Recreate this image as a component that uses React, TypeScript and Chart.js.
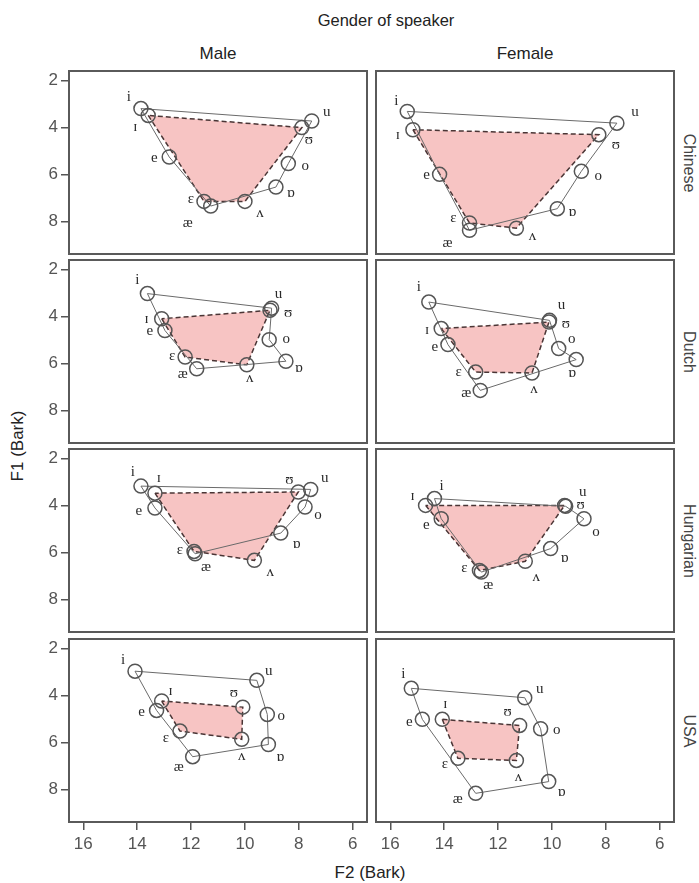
import React, { useEffect, useRef } from 'react';
import { Chart, registerables } from 'chart.js';

Chart.register(...registerables);

// ---------- data ----------
const VOWELS = ['i', 'ɪ', 'e', 'ɛ', 'æ', 'ʌ', 'ɒ', 'o', 'ʊ', 'u'];
const OUTER_ORDER = ['i', 'e', 'æ', 'ɒ', 'o', 'u', 'i'];
const INNER_ORDER = ['ɪ', 'ɛ', 'ʌ', 'ʊ', 'ɪ'];
const LANGUAGES = ['Chinese', 'Dutch', 'Hungarian', 'USA'];
const GENDERS = ['Male', 'Female'];
const X_TICKS = [16, 14, 12, 10, 8, 6];
const Y_TICKS = [2, 4, 6, 8];

const CHINESE_MALE_F2 = [13.86, 13.59, 12.81, 11.52, 11.27, 10.0, 8.85, 8.39, 7.89, 7.52];
const CHINESE_MALE_F1 = [3.2, 3.49, 5.26, 7.15, 7.35, 7.15, 6.54, 5.54, 4.01, 3.73];
const CHINESE_FEMALE_F2 = [15.37, 15.16, 14.17, 13.06, 13.06, 11.32, 9.8, 8.91, 8.26, 7.59];
const CHINESE_FEMALE_F1 = [3.32, 4.1, 6.0, 8.07, 8.38, 8.29, 7.46, 5.87, 4.31, 3.82];
const DUTCH_MALE_F2 = [13.62, 13.09, 12.97, 12.22, 11.79, 9.93, 8.48, 9.1, 9.07, 9.01];
const DUTCH_MALE_F1 = [3.03, 4.1, 4.6, 5.73, 6.23, 6.06, 5.91, 4.99, 3.74, 3.65];
const DUTCH_FEMALE_F2 = [14.57, 14.11, 13.86, 12.83, 12.66, 10.74, 9.1, 9.75, 10.11, 10.09];
const DUTCH_FEMALE_F1 = [3.39, 4.52, 5.2, 6.37, 7.15, 6.41, 5.84, 5.37, 4.24, 4.17];
const HUNGARIAN_MALE_F2 = [13.86, 13.34, 13.34, 11.89, 11.85, 9.65, 8.67, 7.77, 8.02, 7.56];
const HUNGARIAN_MALE_F1 = [3.18, 3.48, 4.11, 5.96, 6.06, 6.34, 5.18, 4.07, 3.43, 3.32];
const HUNGARIAN_FEMALE_F2 = [14.36, 14.69, 14.11, 12.69, 12.62, 10.99, 10.05, 8.81, 9.53, 9.49];
const HUNGARIAN_FEMALE_F1 = [3.71, 4.0, 4.57, 6.77, 6.84, 6.38, 5.84, 4.57, 4.0, 4.04];
const USA_MALE_F2 = [14.08, 13.09, 13.28, 12.41, 11.94, 10.12, 9.13, 9.17, 10.08, 9.56];
const USA_MALE_F1 = [2.97, 4.24, 4.64, 5.52, 6.61, 5.87, 6.09, 4.81, 4.5, 3.36];
const USA_FEMALE_F2 = [15.22, 14.07, 14.81, 13.49, 12.83, 11.32, 10.12, 10.42, 11.2, 11.01];
const USA_FEMALE_F1 = [3.7, 5.02, 5.02, 6.68, 8.17, 6.77, 7.67, 5.42, 5.28, 4.1];

// ---------- label placement (pixel offsets from each point, vowel order) ----------
const LABEL_OFFSETS: Record<string, number[][]> = {
  ChineseMale: [[-12, -12], [-13, 12], [-15, 1], [-13, -2], [-23, 17], [15, 12], [15, 6], [17, 3], [7, 12], [15, -9]],
  ChineseFemale: [[-11, -10], [-15, 5], [-13, 1], [-16, -5], [-22, 13], [16, 8], [15, 3], [17, 5], [17, 10], [18, -11]],
  DutchMale: [[-10, -14], [-15, 0], [-15, 1], [-13, -1], [-14, 5], [3, 13], [13, 7], [17, -1], [18, 3], [7, -14]],
  DutchFemale: [[-10, -15], [-14, 1], [-13, 2], [-17, 0], [-14, 3], [2, 16], [-4, 13], [13, -10], [17, 2], [12, -15]],
  HungarianMale: [[-8, -14], [4, -15], [-16, 3], [-14, -1], [11, 13], [16, 12], [16, 11], [13, 8], [-9, -12], [14, -11]],
  HungarianFemale: [[7, -13], [-13, -9], [-15, 6], [-15, -2], [7, 13], [11, 16], [14, 9], [12, 13], [16, 0], [17, -14]],
  USAMale: [[-12, -11], [9, -10], [-15, 2], [-14, 7], [-14, 10], [0, 17], [12, 13], [14, 2], [-9, -14], [12, -9]],
  USAFemale: [[-8, -14], [3, -15], [-13, 3], [-13, 6], [-18, 6], [2, 17], [13, 10], [16, 1], [-12, -13], [15, -9]],
};

const PANEL_DATA: Record<string, [number[], number[]]> = {
  ChineseMale: [CHINESE_MALE_F2, CHINESE_MALE_F1],
  ChineseFemale: [CHINESE_FEMALE_F2, CHINESE_FEMALE_F1],
  DutchMale: [DUTCH_MALE_F2, DUTCH_MALE_F1],
  DutchFemale: [DUTCH_FEMALE_F2, DUTCH_FEMALE_F1],
  HungarianMale: [HUNGARIAN_MALE_F2, HUNGARIAN_MALE_F1],
  HungarianFemale: [HUNGARIAN_FEMALE_F2, HUNGARIAN_FEMALE_F1],
  USAMale: [USA_MALE_F2, USA_MALE_F1],
  USAFemale: [USA_FEMALE_F2, USA_FEMALE_F1],
};

// ---------- layout ----------
const COL_X = [69, 376];
const PANEL_W = 298;
const ROW_Y = [71, 260, 449, 639];
const PANEL_H = 183;
const Y_AXIS_W = 39;
const X_AXIS_H = 42;
const SANS = "'Liberation Sans', Arial, sans-serif";
const SERIF = "'Liberation Serif', 'DejaVu Serif', serif";

const labelPlugin = {
  id: 'vowelLabels',
  afterDatasetsDraw(chart: any) {
    const opts = chart.options.plugins.vowelLabels;
    if (!opts) return;
    const { f2, f1, offsets } = opts;
    const ctx = chart.ctx;
    const xs = chart.scales.x;
    const ys = chart.scales.y;
    ctx.save();
    ctx.font = `15px ${SERIF}`;
    ctx.fillStyle = '#2a2a2a';
    ctx.textAlign = 'center';
    ctx.textBaseline = 'middle';
    VOWELS.forEach((v, i) => {
      const px = xs.getPixelForValue(f2[i]) + offsets[i][0];
      const py = ys.getPixelForValue(f1[i]) + offsets[i][1];
      ctx.fillText(v, px, py);
    });
    ctx.restore();
  },
};

function Panel({ id, row, col }: { id: string; row: number; col: number }) {
  const ref = useRef<HTMLCanvasElement>(null);
  const showY = col === 0;
  const showX = row === LANGUAGES.length - 1;
  const left = COL_X[col] - (showY ? Y_AXIS_W : 0);
  const top = ROW_Y[row];
  const width = PANEL_W + (showY ? Y_AXIS_W : 0);
  const height = PANEL_H + (showX ? X_AXIS_H : 0);

  useEffect(() => {
    const [f2, f1] = PANEL_DATA[id];
    const pts = VOWELS.map((_, i) => ({ x: f2[i], y: f1[i] }));
    const byName = (n: string) => pts[VOWELS.indexOf(n)];
    const chart = new Chart(ref.current as HTMLCanvasElement, {
      type: 'scatter',
      data: {
        datasets: [
          {
            label: 'lax',
            data: INNER_ORDER.map(byName),
            showLine: true,
            fill: 'shape',
            backgroundColor: '#f7c4c3',
            borderColor: '#4a3535',
            borderWidth: 1.5,
            borderDash: [5, 3],
            pointRadius: 0,
            order: 3,
          } as any,
          {
            label: 'tense',
            data: OUTER_ORDER.map(byName),
            showLine: true,
            fill: false,
            borderColor: '#6a6a6a',
            borderWidth: 1,
            pointRadius: 0,
            order: 2,
          } as any,
          {
            label: 'vowels',
            data: pts,
            showLine: false,
            pointRadius: 7,
            pointHoverRadius: 7,
            pointBorderColor: '#555555',
            pointBackgroundColor: 'rgba(0,0,0,0)',
            pointBorderWidth: 1.5,
            order: 1,
          } as any,
        ],
      },
      options: {
        animation: false,
        responsive: false,
        devicePixelRatio: 1,
        layout: { padding: 0, autoPadding: false },
        events: [],
        plugins: {
          legend: { display: false },
          tooltip: { enabled: false },
          vowelLabels: { f2, f1, offsets: LABEL_OFFSETS[id] },
        } as any,
        scales: {
          x: {
            type: 'linear',
            reverse: true,
            min: 5.47,
            max: 16.53,
            bounds: 'data',
            display: showX,
            afterBuildTicks: (s: any) => {
              s.ticks = X_TICKS.map((v) => ({ value: v }));
            },
            afterFit: (s: any) => {
              s.height = showX ? X_AXIS_H : 0;
              s.paddingLeft = 0;
              s.paddingRight = 0;
              s.paddingTop = 0;
              s.paddingBottom = 0;
            },
            ticks: {
              autoSkip: false,
              maxRotation: 0,
              padding: 4,
              color: '#555',
              font: { family: SANS, size: 17 },
              callback: (v: any) => String(v),
            },
            grid: { display: true, drawOnChartArea: false, drawTicks: true, tickLength: 8, color: '#555', lineWidth: 1.5 },
            border: { display: false },
          },
          y: {
            type: 'linear',
            reverse: true,
            min: 1.6,
            max: 9.39,
            bounds: 'data',
            display: showY,
            afterBuildTicks: (s: any) => {
              s.ticks = Y_TICKS.map((v) => ({ value: v }));
            },
            afterFit: (s: any) => {
              s.width = showY ? Y_AXIS_W : 0;
              s.paddingLeft = 0;
              s.paddingRight = 0;
              s.paddingTop = 0;
              s.paddingBottom = 0;
            },
            ticks: {
              autoSkip: false,
              padding: 3,
              color: '#555',
              font: { family: SANS, size: 17 },
              callback: (v: any) => String(v),
            },
            grid: { display: true, drawOnChartArea: false, drawTicks: true, tickLength: 8, color: '#555', lineWidth: 1.5 },
            border: { display: false },
          },
        },
      },
      plugins: [labelPlugin],
    });
    return () => chart.destroy();
  }, [id]);

  return (
    <>
      <canvas
        ref={ref}
        width={width}
        height={height}
        style={{ position: 'absolute', left, top, width, height }}
      />
      <div
        style={{
          position: 'absolute',
          left: COL_X[col] - 1,
          top: ROW_Y[row] - 1,
          width: PANEL_W + 2,
          height: PANEL_H + 2,
          border: '2px solid #5a5a5a',
          boxSizing: 'border-box',
          pointerEvents: 'none',
        }}
      />
    </>
  );
}

export default function App() {
  const textBase: React.CSSProperties = {
    position: 'absolute',
    fontFamily: SANS,
    color: '#222',
    whiteSpace: 'nowrap',
    lineHeight: 1,
  };
  return (
    <div style={{ position: 'absolute', left: 0, top: 0, width: 699, height: 883, background: '#fff', overflow: 'hidden' }}>
      <div style={{ ...textBase, left: 386, top: 20, fontSize: 16.5, transform: 'translate(-50%, -50%)' }}>Gender of speaker</div>
      {GENDERS.map((g, c) => (
        <div key={g} style={{ ...textBase, left: COL_X[c] + PANEL_W / 2, top: 53, fontSize: 17, transform: 'translate(-50%, -50%)' }}>
          {g}
        </div>
      ))}
      {LANGUAGES.map((l, r) => (
        <div
          key={l}
          style={{
            ...textBase,
            color: '#444',
            left: 689,
            top: ROW_Y[r] + PANEL_H / 2,
            fontSize: 16,
            transform: 'translate(-50%, -50%) rotate(90deg)',
          }}
        >
          {l}
        </div>
      ))}
      <div style={{ ...textBase, left: 17, top: 446, fontSize: 17, transform: 'translate(-50%, -50%) rotate(-90deg)' }}>F1 (Bark)</div>
      <div style={{ ...textBase, left: 370, top: 872, fontSize: 17, transform: 'translate(-50%, -50%)' }}>F2 (Bark)</div>
      {LANGUAGES.map((l, r) =>
        GENDERS.map((g, c) => <Panel key={l + g} id={l + g} row={r} col={c} />)
      )}
    </div>
  );
}
